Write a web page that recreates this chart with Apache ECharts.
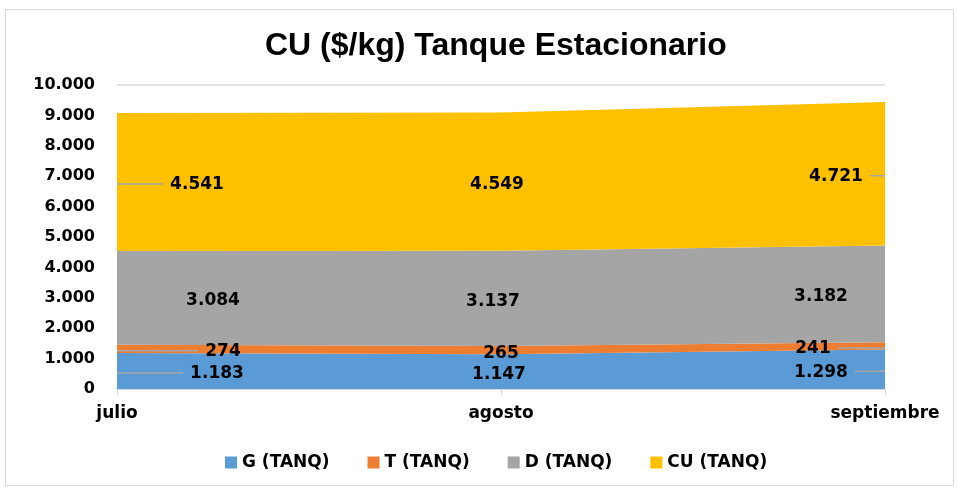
<!DOCTYPE html>
<html>
<head>
<meta charset="utf-8">
<script src="https://cdn.jsdelivr.net/npm/echarts@6/dist/echarts.min.js"></script>
<style>
html, body { margin: 0; padding: 0; background: #fff; }
#frame { position: absolute; left: 5px; top: 9px; width: 949px; height: 477px; box-sizing: border-box; border: 1px solid #D9D9D9; }
#chart { position: absolute; left: 0; top: 0; width: 958px; height: 489px; }
</style>
</head>
<body>
<div id="frame"></div>
<div id="chart"></div>
<script>
// datos
const months = ['julio', 'agosto', 'septiembre'];
const gTanq = [1183, 1147, 1298];
const tTanq = [274, 265, 241];
const dTanq = [3084, 3137, 3182];
const cuTanq = [4541, 4549, 4721];
const seriesNames = ['G (TANQ)', 'T (TANQ)', 'D (TANQ)', 'CU (TANQ)'];
const yTicks = [0, 1000, 2000, 3000, 4000, 5000, 6000, 7000, 8000, 9000, 10000];

const seriesValues = [gTanq, tTanq, dTanq, cuTanq];
const colors = ['#5B9BD5', '#ED7D31', '#A5A5A5', '#FFC000'];

// horizontal shift of each data label (px), per series and month
const labelDx = [[100, -2, -64], [106, 0, -72], [96, -8, -64], [80, -4, -49]];
const labelDy = 3;
const leader = [[true, false, true], [true, false, true], [false, false, false], [true, false, true]];
const labelFont = 'bold 17px "DejaVu Sans"';

function fmt(v) {
    return String(v).replace(/\B(?=(\d{3})+(?!\d))/g, '.');
}

const chart = echarts.init(document.getElementById('chart'));

function labelPos(s, i) {
    let base = 0;
    for (let k = 0; k < s; k++) base += seriesValues[k][i];
    const mid = base + seriesValues[s][i] / 2;
    const px = chart.convertToPixel({ gridIndex: 0 }, [i, mid]);
    return { ax: px[0], x: px[0] + labelDx[s][i], y: px[1] + labelDy };
}

function layoutLabel(p) {
    const pos = labelPos(p.seriesIndex, p.dataIndex);
    return { x: pos.x, y: pos.y, align: 'center', verticalAlign: 'middle' };
}

const series = seriesNames.map(function (name, s) {
    return {
        name: name,
        type: 'line',
        stack: 'total',
        data: seriesValues[s],
        symbol: 'circle',
        symbolSize: 0.01,
        itemStyle: { color: colors[s] },
        lineStyle: { width: 0 },
        areaStyle: { color: colors[s], opacity: 1 },
        label: {
            show: true,
            formatter: function (p) { return fmt(p.value); },
            color: '#000',
            fontFamily: 'DejaVu Sans',
            fontWeight: 'bold',
            fontSize: 17
        },
        labelLayout: layoutLabel
    };
});

chart.setOption({
    animation: false,
    color: colors,
    title: {
        text: 'CU ($/kg) Tanque Estacionario',
        left: 260,
        top: 25,
        textStyle: { fontFamily: 'Liberation Sans', fontWeight: 'bold', fontSize: 32, color: '#000' }
    },
    legend: {
        bottom: 13,
        left: 220,
        icon: 'rect',
        itemWidth: 12,
        itemHeight: 12,
        itemGap: 38,
        textStyle: { fontFamily: 'DejaVu Sans', fontWeight: 'bold', fontSize: 17, color: '#000' }
    },
    grid: { left: 117, right: 73, top: 85, bottom: 100 },
    xAxis: {
        type: 'category',
        data: months,
        boundaryGap: false,
        axisLine: { lineStyle: { color: '#D9D9D9', width: 1.5 } },
        axisTick: { show: true, length: 6, lineStyle: { color: '#D9D9D9' } },
        axisLabel: { color: '#000', fontFamily: 'DejaVu Sans', fontWeight: 'bold', fontSize: 17, margin: 16 }
    },
    yAxis: {
        type: 'value',
        min: yTicks[0],
        max: yTicks[yTicks.length - 1],
        interval: 1000,
        axisLine: { show: false },
        axisTick: { show: false },
        splitLine: { lineStyle: { color: '#D9D9D9', width: 1.5 } },
        axisLabel: { color: '#000', fontFamily: 'DejaVu Sans', fontWeight: 'bold', fontSize: 16, margin: 22, formatter: fmt }
    },
    series: series
});

// leader lines from the plot edge to the moved labels
const ctx = document.createElement('canvas').getContext('2d');
ctx.font = labelFont;
const leaders = [];
seriesValues.forEach(function (vals, s) {
    vals.forEach(function (v, i) {
        if (!leader[s][i]) return;
        const pos = labelPos(s, i);
        const w = ctx.measureText(fmt(v)).width;
        const end = i === 0 ? pos.x - w / 2 - 7 : pos.x + w / 2 + 7;
        leaders.push({
            type: 'line',
            silent: true,
            z: 100,
            shape: { x1: pos.ax, y1: pos.y - 1, x2: end, y2: pos.y - 1 },
            style: { stroke: '#A6A6A6', lineWidth: 1.5 }
        });
    });
});
chart.setOption({ graphic: leaders });
</script>
</body>
</html>
